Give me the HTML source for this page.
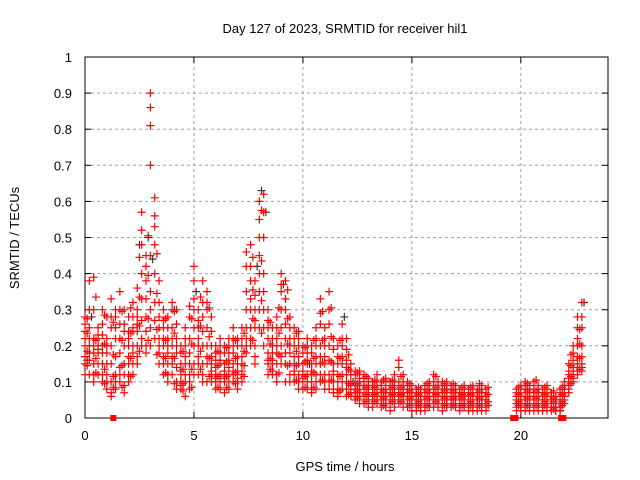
<!DOCTYPE html>
<html><head><meta charset="utf-8"><style>
body{margin:0;background:#fff}
svg{display:block;font-family:"Liberation Sans",sans-serif;font-size:13px}
</style></head><body>
<svg id="chart" width="640" height="480" viewBox="0 0 640 480">
<rect x="0" y="0" width="640" height="480" fill="#fff"/>
<g id="grid"></g>
<g id="axes"></g>
<g id="pts"></g>
<text x="345" y="33" text-anchor="middle">Day 127 of 2023, SRMTID for receiver hil1</text>
<text x="19" y="238" text-anchor="middle" transform="rotate(-90 19 238)">SRMTID / TECUs</text>
<text x="345" y="471" text-anchor="middle">GPS time / hours</text>
</svg>
<script>
const xTicks=[0,5,10,15,20];
const yTicks=[0,0.1,0.2,0.3,0.4,0.5,0.6,0.7,0.8,0.9,1];
const yTickLabels=["0","0.1","0.2","0.3","0.4","0.5","0.6","0.7","0.8","0.9","1"];
const redTimes=[0,0.2,0.4,0.6,0.8,1.0,1.2,1.4,1.6,1.8,2.0,2.2,2.4,2.6,2.8,3.0,3.2,3.4,3.6,3.8,4.0,4.2,4.4,4.6,4.8,5.0,5.2,5.4,5.6,5.8,6.0,6.2,6.4,6.6,6.8,7.0,7.2,7.4,7.6,7.8,8.0,8.2,8.4,8.6,8.8,9.0,9.2,9.4,9.6,9.8,10.0,10.2,10.4,10.6,10.8,11.0,11.2,11.4,11.6,11.8,12.0,12.2,12.4,12.6,12.8,13.0,13.2,13.4,13.6,13.8,14.0,14.2,14.4,14.6,14.8,15.0,15.2,15.4,15.6,15.8,16.0,16.2,16.4,16.6,16.8,17.0,17.2,17.4,17.6,17.8,18.0,18.2,18.4,19.8,20.0,20.2,20.4,20.6,20.8,21.0,21.2,21.4,21.6,21.8,22.0,22.2,22.4,22.6,22.8];
const redValues=[
[.28,.24,.2,.17,.15,.12,.22,.26],
[.38,.3,.25,.22,.2,.18,.16,.12],
[.39,.3,.22,.18,.15,.12,.1,.2],
[.25,.22,.2,.18,.15,.12,.19,.23],
[.3,.26,.2,.18,.15,.12,.1,.23],
[.28,.22,.18,.15,.12,.08,.1,.2],
[.33,.28,.25,.2,.15,.1,.07,.06],
[.3,.25,.22,.17,.12,.08,.1,.28],
[.35,.3,.26,.22,.18,.14,.1,.12],
[.3,.26,.2,.15,.12,.09,.07,.24],
[.28,.24,.2,.17,.15,.12,.1,.22],
[.32,.28,.25,.2,.18,.15,.12,.24],
[.36,.3,.28,.24,.2,.17,.15,.26],
[.57,.52,.48,.4,.33,.27,.22,.2],
[.45,.42,.38,.33,.28,.24,.2,.18],
[.9,.86,.81,.7,.45,.35,.3,.25,.2],
[.61,.56,.53,.48,.4,.32,.27,.22],
[.38,.32,.28,.25,.22,.18,.15,.2],
[.3,.27,.25,.22,.2,.17,.15,.12],
[.28,.25,.22,.2,.18,.15,.12,.1],
[.32,.3,.25,.22,.2,.17,.15,.12],
[.3,.26,.22,.18,.14,.1,.08,.2],
[.2,.18,.15,.13,.12,.1,.08,.09],
[.25,.22,.2,.17,.15,.12,.1,.06],
[.31,.28,.22,.18,.15,.12,.1,.08],
[.42,.38,.33,.3,.25,.2,.15,.12],
[.3,.27,.25,.22,.2,.17,.15,.12],
[.38,.32,.28,.24,.2,.15,.12,.1],
[.35,.32,.3,.25,.2,.17,.15,.1],
[.28,.24,.2,.17,.15,.13,.1,.12],
[.2,.18,.16,.14,.12,.11,.1,.08],
[.22,.2,.18,.16,.15,.12,.1,.08],
[.2,.18,.15,.13,.12,.11,.1,.07],
[.22,.2,.18,.16,.14,.12,.1,.08],
[.25,.22,.2,.18,.15,.13,.12,.1],
[.22,.2,.17,.15,.13,.11,.1,.08],
[.25,.22,.2,.17,.15,.13,.12,.1],
[.46,.42,.35,.3,.25,.22,.2,.18],
[.48,.42,.38,.33,.3,.25,.22,.2],
[.38,.34,.3,.27,.25,.2,.17,.15],
[.6,.55,.5,.45,.4,.35,.3,.25],
[.62,.57,.5,.4,.35,.3,.25,.2],
[.3,.27,.25,.22,.18,.16,.15,.12],
[.25,.22,.2,.18,.16,.15,.13,.12],
[.28,.25,.22,.2,.18,.15,.12,.1],
[.4,.37,.35,.3,.25,.2,.17,.15],
[.38,.33,.3,.26,.22,.18,.15,.1],
[.28,.25,.22,.2,.18,.15,.12,.1],
[.25,.22,.2,.17,.15,.13,.12,.1],
[.24,.22,.2,.17,.15,.12,.1,.08],
[.2,.18,.15,.13,.12,.11,.1,.08],
[.22,.2,.18,.16,.15,.12,.1,.08],
[.2,.18,.15,.13,.12,.1,.08,.07],
[.25,.22,.2,.17,.15,.12,.1,.08],
[.33,.29,.26,.2,.17,.15,.12,.1],
[.25,.22,.2,.17,.15,.12,.1,.08],
[.35,.3,.26,.2,.16,.12,.1,.08],
[.22,.19,.15,.13,.12,.1,.08,.07],
[.2,.17,.15,.12,.1,.08,.07,.06],
[.26,.22,.2,.17,.15,.12,.1,.08],
[.22,.19,.16,.14,.12,.1,.08,.06],
[.15,.13,.12,.1,.09,.08,.07,.06],
[.13,.12,.1,.09,.08,.07,.06,.05],
[.13,.11,.1,.09,.08,.07,.06,.04],
[.12,.11,.1,.09,.08,.06,.05,.04],
[.11,.1,.09,.08,.07,.06,.05,.03],
[.1,.09,.08,.07,.06,.05,.04,.03],
[.12,.1,.09,.08,.07,.06,.05,.04],
[.1,.09,.08,.07,.06,.05,.04,.03],
[.11,.1,.08,.07,.06,.05,.04,.03],
[.1,.09,.08,.07,.06,.05,.04,.02],
[.12,.1,.09,.08,.07,.06,.05,.03],
[.16,.14,.1,.08,.07,.06,.05,.04],
[.12,.1,.09,.08,.07,.06,.05,.03],
[.1,.09,.08,.07,.06,.05,.04,.03],
[.09,.08,.07,.06,.05,.05,.04,.02],
[.08,.07,.07,.06,.05,.04,.03,.02],
[.08,.07,.06,.05,.05,.04,.03,.02],
[.09,.08,.07,.06,.05,.04,.03,.02],
[.1,.09,.08,.07,.06,.05,.04,.03],
[.12,.1,.08,.07,.06,.05,.04,.03],
[.1,.09,.08,.07,.06,.05,.04,.03],
[.1,.09,.08,.07,.06,.05,.04,.02],
[.1,.09,.08,.07,.06,.05,.04,.03],
[.09,.08,.07,.06,.05,.05,.04,.03],
[.09,.08,.07,.06,.06,.05,.04,.03],
[.08,.07,.07,.06,.05,.04,.03,.02],
[.09,.08,.07,.06,.05,.04,.04,.03],
[.08,.07,.06,.06,.05,.04,.03,.02],
[.09,.08,.07,.06,.05,.04,.03,.02],
[.08,.07,.06,.05,.05,.04,.03,.02],
[.09,.08,.07,.06,.05,.04,.03,.02],
[.08,.07,.06,.05,.05,.04,.03,.02],
[.08,.07,.06,.05,.04,.04,.03,.02],
[.09,.08,.07,.06,.05,.04,.03,.02],
[.1,.09,.08,.06,.05,.04,.03,.02],
[.09,.08,.07,.06,.05,.04,.03,.02],
[.1,.08,.07,.06,.05,.04,.03,.02],
[.09,.08,.07,.06,.05,.04,.03,.02],
[.08,.07,.06,.05,.04,.03,.03,.02],
[.09,.08,.07,.06,.05,.04,.03,.02],
[.07,.06,.05,.05,.04,.03,.03,.02],
[.06,.05,.05,.04,.03,.03,.02,.02],
[.08,.07,.05,.04,.03,.03,.02,.02],
[.1,.09,.08,.07,.06,.06,.05,.04],
[.15,.13,.12,.11,.1,.09,.08,.07],
[.2,.18,.16,.14,.13,.12,.11,.1],
[.28,.25,.22,.2,.17,.15,.13,.12],
[.32,.28,.25,.2,.17,.15,.14,.13]
];
const midTimes=[0.1,0.5,0.9,1.3,1.7,2.1,2.5,2.9,3.3,3.7,4.1,4.5,4.9,5.3,5.7,6.1,6.5,6.9,7.3,7.7,8.1,8.5,8.9,9.3,9.7,10.1,10.5,10.9,11.3,11.7,12.1,12.5,12.9,13.3,13.7,14.1,14.5,14.9,15.3,15.7,16.1,16.5,16.9,17.3,17.7,18.1,18.5,19.9,20.3,20.7,21.1,21.5,21.9,22.3,22.7];
const midValues=[
[.235,.185,.145,.275],[.335,.215,.165,.125],[.285,.205,.135,.095],[.265,.175,.115,.085],
[.295,.215,.145,.085],[.305,.235,.165,.115],[.445,.335,.255,.185],[.505,.395,.275,.215],
[.455,.345,.245,.175],[.275,.215,.165,.125],[.295,.235,.165,.095],[.185,.135,.095,.075],
[.275,.205,.135,.085],[.335,.255,.185,.135],[.305,.225,.165,.115],[.185,.145,.115,.085],
[.195,.155,.115,.085],[.215,.165,.125,.095],[.235,.185,.145,.115],[.445,.355,.275,.215],
[.575,.435,.325,.235],[.265,.205,.165,.135],[.305,.235,.175,.125],[.355,.275,.205,.145],
[.235,.185,.145,.105],[.195,.155,.115,.085],[.215,.165,.125,.085],[.295,.215,.155,.105],
[.305,.225,.155,.105],[.215,.165,.115,.075],[.175,.135,.095,.065],[.125,.095,.075,.055],
[.115,.085,.065,.045],[.105,.085,.065,.045],[.105,.075,.055,.035],[.105,.085,.065,.045],
[.115,.085,.065,.045],[.095,.075,.055,.035],[.085,.065,.045,.035],[.095,.075,.055,.035],
[.115,.085,.065,.045],[.095,.075,.055,.035],[.095,.075,.055,.035],[.085,.065,.055,.035],
[.085,.065,.045,.035],[.095,.075,.055,.035],[.085,.065,.045,.035],[.085,.065,.045,.035],
[.095,.075,.055,.035],[.105,.075,.055,.035],[.085,.065,.045,.035],[.075,.055,.045,.025],
[.085,.065,.045,.035],[.175,.145,.115,.095],[.245,.205,.165,.135]
];
const blackTimes=[0.1,0.3,2.5,2.9,3.1,4.1,5.1,7.9,8.1,8.3,9.1,10.3,11.9,12.3,14.4,22.9];
const blackValues=[.16,.28,.48,.5,.44,.3,.35,.42,.63,.57,.37,.15,.28,.1,.07,.32];
const zeroTimes=[1.3,19.65,19.75,21.85,21.95];

const X0=85,X1=608,Y0=418,Y1=57,XMAX=24;
const sx=t=>X0+(X1-X0)*t/XMAX;
const sy=v=>Y0-(Y0-Y1)*v;
const NS="http://www.w3.org/2000/svg";
function mk(tag,attrs,parent){const e=document.createElementNS(NS,tag);for(const k in attrs)e.setAttribute(k,attrs[k]);parent.appendChild(e);return e;}
const grid=document.getElementById('grid'),axes=document.getElementById('axes'),pts=document.getElementById('pts');
yTicks.forEach((v,i)=>{
  const y=sy(v);
  if(i>0&&i<yTicks.length-1){
    const g=mk('line',{x1:X0,x2:X1,y1:y,y2:y,stroke:'#a0a0a0','stroke-dasharray':'3,3'},grid);
    
    
  }
  const t=mk('text',{x:72,y:y+5,'text-anchor':'end'},axes);
  t.textContent=yTickLabels[i];
  
  
  mk('line',{x1:X0,x2:X0+6,y1:y,y2:y,stroke:'#000'},axes);
  mk('line',{x1:X1,x2:X1-6,y1:y,y2:y,stroke:'#000'},axes);
});
xTicks.forEach(v=>{
  const x=sx(v);
  if(v>0){
    const g=mk('line',{x1:x,x2:x,y1:Y0,y2:Y1,stroke:'#a0a0a0','stroke-dasharray':'3,3'},grid);
    
    
  }
  const t=mk('text',{x:x,y:Y0+22,'text-anchor':'middle'},axes);
  t.textContent=v;
  
  
  mk('line',{x1:x,x2:x,y1:Y0,y2:Y0-6,stroke:'#000'},axes);
  mk('line',{x1:x,x2:x,y1:Y1,y2:Y1+6,stroke:'#000'},axes);
});
const frame=mk('rect',{x:X0,y:Y1,width:X1-X0,height:Y0-Y1,fill:'none',stroke:'#000'},axes);


function plus(t,v,col,name){
  const x=sx(t),y=sy(v);
  const p=mk('path',{d:`M${x-4} ${y}H${x+4}M${x} ${y-4}V${y+4}`,stroke:col,'stroke-width':1.2,fill:'none'},pts);
  
  
}
blackTimes.forEach((t,i)=>plus(t,blackValues[i],'#333','black-point'));
redTimes.forEach((t,i)=>redValues[i].forEach(v=>plus(t,v,'#ff0000','red-point')));
midTimes.forEach((t,i)=>midValues[i].forEach(v=>plus(t,v,'#ff0000','red-point')));
zeroTimes.forEach(t=>{
  const r=mk('rect',{x:sx(t)-3,y:Y0-3,width:6,height:6,fill:'#ff0000'},pts);
  
  
});
</script>
</body></html>
